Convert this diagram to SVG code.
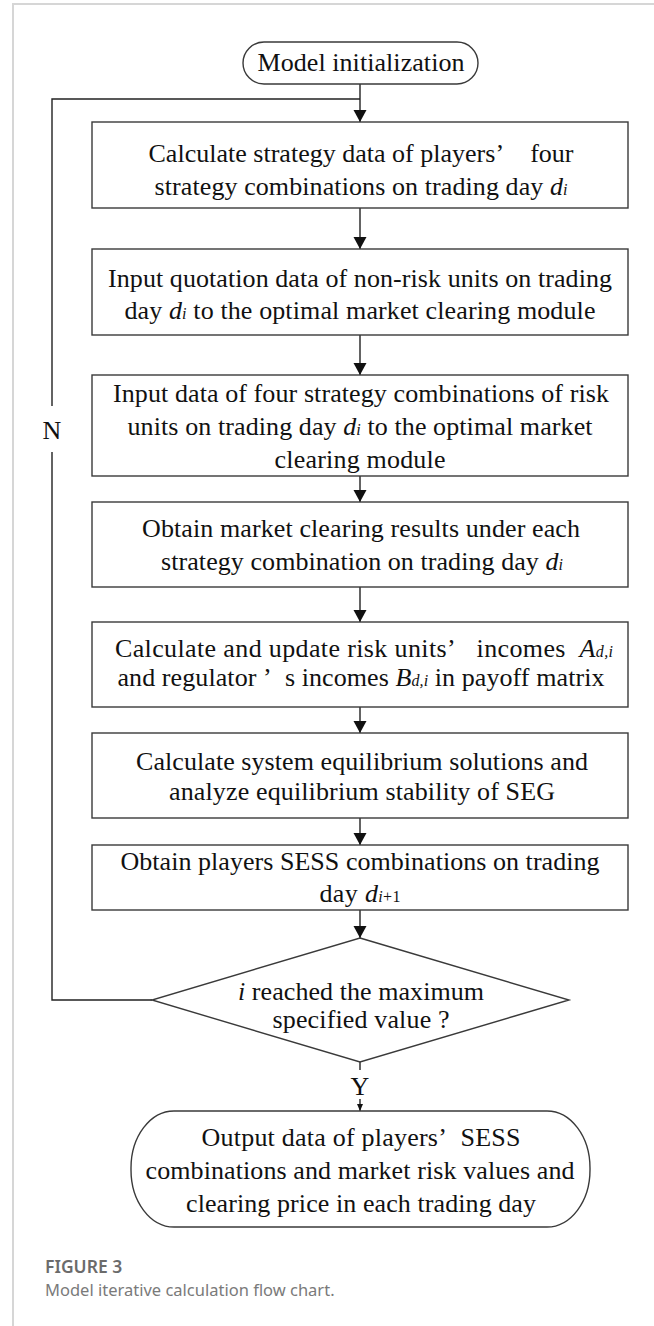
<svg xmlns="http://www.w3.org/2000/svg" width="654" height="1326" viewBox="0 0 654 1326">
<defs>
<style>
.box{fill:#fff;stroke:#3a3a3a;stroke-width:1.4}
.t{font-family:"Liberation Serif","Times New Roman",serif;font-size:26px;fill:#111;text-anchor:middle}
.it{font-style:italic}
.sub{font-size:16px;font-style:italic}
.conn line,.conn polyline{stroke:#222;stroke-width:1.4;fill:none}
.frame{stroke:#d6d6d6;stroke-width:2;fill:none}
.cap1{font-family:"Noto Sans","Open Sans",sans-serif;font-size:17.5px;font-weight:600;fill:#6b6b6b}
.cap2{font-family:"Noto Sans","Open Sans",sans-serif;font-size:16.5px;fill:#7a7a7a}
</style>
<marker id="ah" markerUnits="userSpaceOnUse" markerWidth="14" markerHeight="14" refX="12" refY="6.5" orient="auto"><path d="M0,0 L12,6.5 L0,13 z" fill="#111"/></marker>
<marker id="ahs" markerUnits="userSpaceOnUse" markerWidth="8" markerHeight="8" refX="7" refY="3" orient="auto"><path d="M0,0 L7,3 L0,6 z" fill="#111"/></marker>
</defs>
<rect width="654" height="1326" fill="#fff"/>
<polyline class="frame" points="13,1326 13,4 654,4"/>

<g id="connectors" class="conn">
<line x1="360" y1="84" x2="360" y2="122" marker-end="url(#ah)"/>
<line x1="360" y1="208" x2="360" y2="249" marker-end="url(#ah)"/>
<line x1="360" y1="335" x2="360" y2="375" marker-end="url(#ah)"/>
<line x1="360" y1="476" x2="360" y2="502" marker-end="url(#ah)"/>
<line x1="360" y1="587" x2="360" y2="622" marker-end="url(#ah)"/>
<line x1="360" y1="707" x2="360" y2="733" marker-end="url(#ah)"/>
<line x1="360" y1="818" x2="360" y2="845" marker-end="url(#ah)"/>
<line x1="360" y1="910" x2="360" y2="938" marker-end="url(#ah)"/>
<line x1="360" y1="1062" x2="360" y2="1070"/>
<line x1="360" y1="1099" x2="360" y2="1111" marker-end="url(#ahs)"/>
<polyline points="152,1000 52,1000 52,452"/>
<polyline points="52,406 52,99 360,99"/>
<text class="t" x="52" y="439">N</text>
<text class="t" x="360" y="1095">Y</text>
</g>

<g id="start">
<rect class="box" x="243" y="42" width="235" height="42" rx="21"/>
<text class="t" x="361" y="71" textLength="207">Model initialization</text>
</g>

<g id="step1">
<rect class="box" x="92" y="122" width="536" height="86"/>
<text class="t" x="361" y="162" textLength="425">Calculate strategy data of players’&#160;&#160;&#160; four</text>
<text class="t" x="361" y="195" textLength="413">strategy combinations on trading day <tspan class="it">d</tspan><tspan class="sub">i</tspan></text>
</g>

<g id="step2">
<rect class="box" x="92" y="249" width="536" height="86"/>
<text class="t" x="360" y="287" textLength="504">Input quotation data of non-risk units on trading</text>
<text class="t" x="360" y="319" textLength="471">day <tspan class="it">d</tspan><tspan class="sub">i</tspan> to the optimal market clearing module</text>
</g>

<g id="step3">
<rect class="box" x="92" y="375" width="536" height="101"/>
<text class="t" x="361" y="402" textLength="496">Input data of four strategy combinations of risk</text>
<text class="t" x="360" y="435" textLength="465">units on trading day <tspan class="it">d</tspan><tspan class="sub">i</tspan> to the optimal market</text>
<text class="t" x="360" y="468" textLength="171">clearing module</text>
</g>

<g id="step4">
<rect class="box" x="92" y="502" width="536" height="85"/>
<text class="t" x="361" y="537" textLength="438">Obtain market clearing results under each</text>
<text class="t" x="362" y="570" textLength="402">strategy combination on trading day <tspan class="it">d</tspan><tspan class="sub">i</tspan></text>
</g>

<g id="step5">
<rect class="box" x="92" y="622" width="536" height="85"/>
<text class="t" x="364" y="657" textLength="498">Calculate and update risk units’&#160;&#160; incomes&#160; <tspan class="it">A</tspan><tspan class="sub">d,i</tspan></text>
<text class="t" x="361" y="686" textLength="487">and regulator ’&#160; s incomes <tspan class="it">B</tspan><tspan class="sub">d,i</tspan> in payoff matrix</text>
</g>

<g id="step6">
<rect class="box" x="92" y="733" width="536" height="85"/>
<text class="t" x="362" y="770" textLength="452">Calculate system equilibrium solutions and</text>
<text class="t" x="362" y="800" textLength="386">analyze equilibrium stability of SEG</text>
</g>

<g id="step7">
<rect class="box" x="92" y="845" width="536" height="65"/>
<text class="t" x="360" y="870" textLength="479">Obtain players SESS combinations on trading</text>
<text class="t" x="360" y="902" textLength="81">day <tspan class="it">d</tspan><tspan class="sub">i</tspan><tspan font-size="16">+1</tspan></text>
</g>

<g id="decision">
<polygon class="box" points="360,938 569,1000 360,1062 152,1000"/>
<text class="t" x="361" y="1000" textLength="246"><tspan class="it">i</tspan> reached the maximum</text>
<text class="t" x="361" y="1028" textLength="177">specified value ?</text>
</g>

<g id="end">
<rect class="box" x="131" y="1111" width="459" height="116" rx="43" ry="57"/>
<text class="t" x="361" y="1146" textLength="319">Output data of players’&#160; SESS</text>
<text class="t" x="360" y="1179" textLength="429">combinations and market risk values and</text>
<text class="t" x="361" y="1212" textLength="350">clearing price in each trading day</text>
</g>

<g id="caption">
<text class="cap1" x="45" y="1273">FIGURE 3</text>
<text class="cap2" x="45" y="1296">Model iterative calculation flow chart.</text>
</g>
</svg>
